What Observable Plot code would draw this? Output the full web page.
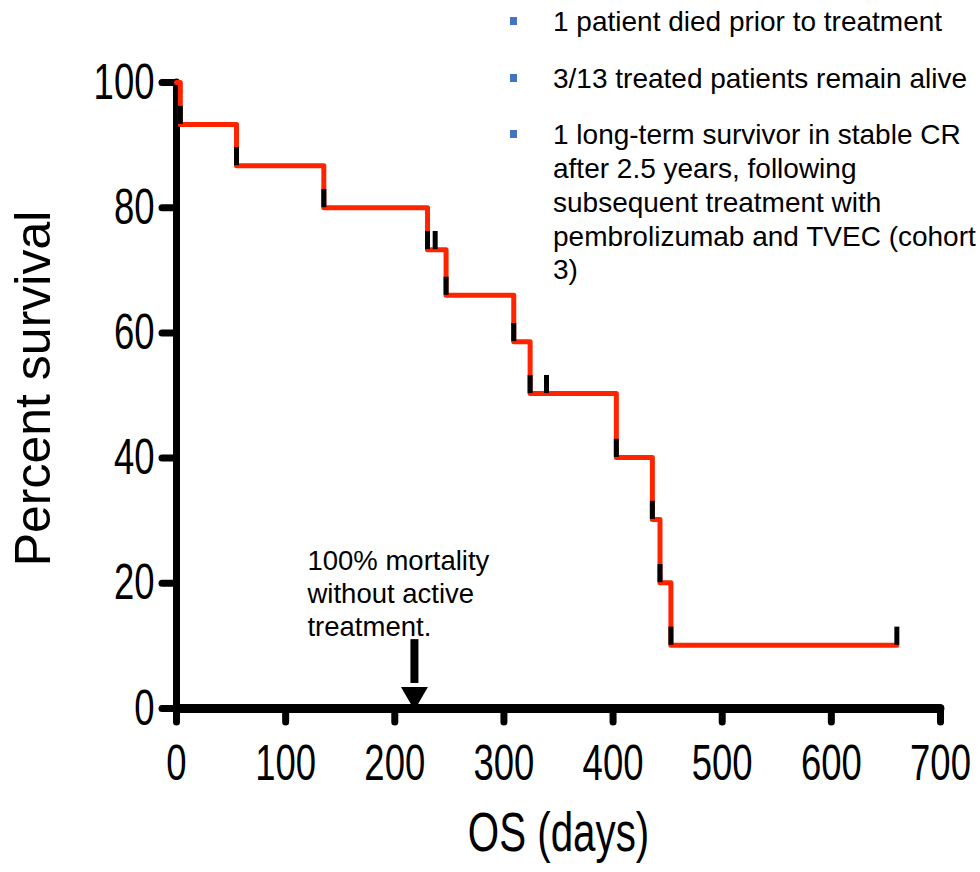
<!DOCTYPE html>
<html><head><meta charset="utf-8">
<script src="https://cdn.jsdelivr.net/npm/d3@7"></script>
<script src="https://cdn.jsdelivr.net/npm/@observablehq/plot@0.6"></script>
<style>
body{margin:0;background:#fff;}
#wrap{position:relative;width:980px;height:872px;overflow:hidden;}
#notes{position:absolute;left:510px;top:5px;font-family:"Liberation Sans",Arial,sans-serif;font-size:28px;line-height:33.7px;color:#000;white-space:nowrap;}
.item{position:relative;padding-left:43px;margin-bottom:23px;}
.bullet{position:absolute;left:0;top:12px;width:7px;height:8px;background:#4472c4;}
</style></head>
<body><div id="wrap"><div id="chart"></div><div id="notes"></div></div>
<script>
// Kaplan-Meier steps (OS days, percent survival)
const days = [0, 3.5, 55, 135, 230, 247, 309, 324, 403, 436, 443, 453, 660];
const survival = [100, 93.3, 86.7, 80, 73.3, 66.0, 58.6, 50.3, 40.1, 30.2, 20.1, 10.1, 10.1];
// censor tick marks
const censorDays = [3.5, 55, 135, 230, 237, 247, 309, 324, 339, 403, 436, 443, 453, 660];
const censorLevels = [93.3, 86.7, 80, 73.3, 73.3, 66.0, 58.6, 50.3, 50.3, 40.1, 30.2, 20.1, 10.1, 10.1];
// axes
const xTicks = [0, 100, 200, 300, 400, 500, 600, 700];
const yTicks = [0, 20, 40, 60, 80, 100];
const xTitle = "OS (days)";
const yTitle = "Percent survival";
// annotation
const annotationText = ["100% mortality", "without active", "treatment."];
const annotationAt = [120, 25.8];   // day, percent
const arrowDay = [218];
const arrowFrom = [11];
const arrowTo = [4];
// notes (top-right)
const notes = [
  ["1 patient died prior to treatment"],
  ["3/13 treated patients remain alive"],
  ["1 long-term survivor in stable CR", "after 2.5 years, following", "subsequent treatment with", "pembrolizumab and TVEC (cohort", "3)"]
];

const curve = days.map((d, i) => ({day: d, pct: survival[i]}));
const censored = censorDays.map((d, i) => ({day: d, pct: censorLevels[i]}));
const tickLen = 2.9;
const font = "Liberation Sans, Arial, sans-serif";

const chart = Plot.plot({
  width: 980, height: 872,
  marginLeft: 176, marginRight: 40, marginTop: 82, marginBottom: 164,
  x: {domain: [0, 700]},
  y: {domain: [0, 100]},
  style: {fontFamily: font, background: "white", color: "black"},
  marks: [
    Plot.axisY(yTicks, {tickSize: 14, tickPadding: 8, fontSize: 50, strokeWidth: 7, strokeLinecap: "round", label: null}),
    Plot.axisX(xTicks, {tickSize: 14, tickPadding: 22, fontSize: 50, strokeWidth: 7, strokeLinecap: "round", label: null}),
    Plot.ruleX([0], {y1: 0, y2: 100, strokeWidth: 7, strokeLinecap: "round"}),
    Plot.ruleY([0], {x1: 0, x2: 700, strokeWidth: 9, strokeLinecap: "round"}),
    Plot.line(curve, {x: "day", y: "pct", curve: "step-after", stroke: "#ff2400", strokeWidth: 5}),
    Plot.ruleX(censored, {x: "day", y1: "pct", y2: d => d.pct + tickLen, stroke: "black", strokeWidth: 5}),
    Plot.text([annotationText.join("\n")], {x: () => annotationAt[0], y: () => annotationAt[1], textAnchor: "start", lineAnchor: "top", fontSize: 27.5, lineHeight: 1.2}),
    Plot.ruleX(arrowDay, {x: d => d, y1: (d, i) => arrowFrom[i], y2: (d, i) => arrowTo[i], strokeWidth: 8}),
    Plot.dot(arrowDay, {x: d => d, y: 2.2, symbol: "triangle", r: 10, rotate: 180, fill: "black", stroke: null}),
    Plot.text([yTitle], {frameAnchor: "left", textAnchor: "middle", rotate: -90, dx: -143, dy: -7, fontSize: 50}),
    Plot.text([xTitle], {frameAnchor: "bottom", textAnchor: "middle", dy: 142, fontSize: 56})
  ]
});
document.getElementById("chart").appendChild(chart);

// condensed digits like the original (narrow sans)
function squeezeEl(t, s) {
  const x = parseFloat(t.getAttribute("x")) || 0;
  const T = t.getAttribute("transform") || "";
  t.setAttribute("transform", `${T} translate(${x},0) scale(${s},1) translate(${-x},0)`);
}
chart.querySelectorAll('g[aria-label$="tick label"] text').forEach(t => squeezeEl(t, 0.73));
chart.querySelectorAll('text').forEach(t => { if (t.textContent === xTitle) squeezeEl(t, 0.72); });

const box = document.getElementById("notes");
notes.forEach(lines => {
  const it = document.createElement("div");
  it.className = "item";
  const b = document.createElement("div");
  b.className = "bullet";
  it.appendChild(b);
  lines.forEach((l, i) => {
    if (i) it.appendChild(document.createElement("br"));
    it.appendChild(document.createTextNode(l));
  });
  box.appendChild(it);
});
</script>
</body></html>
